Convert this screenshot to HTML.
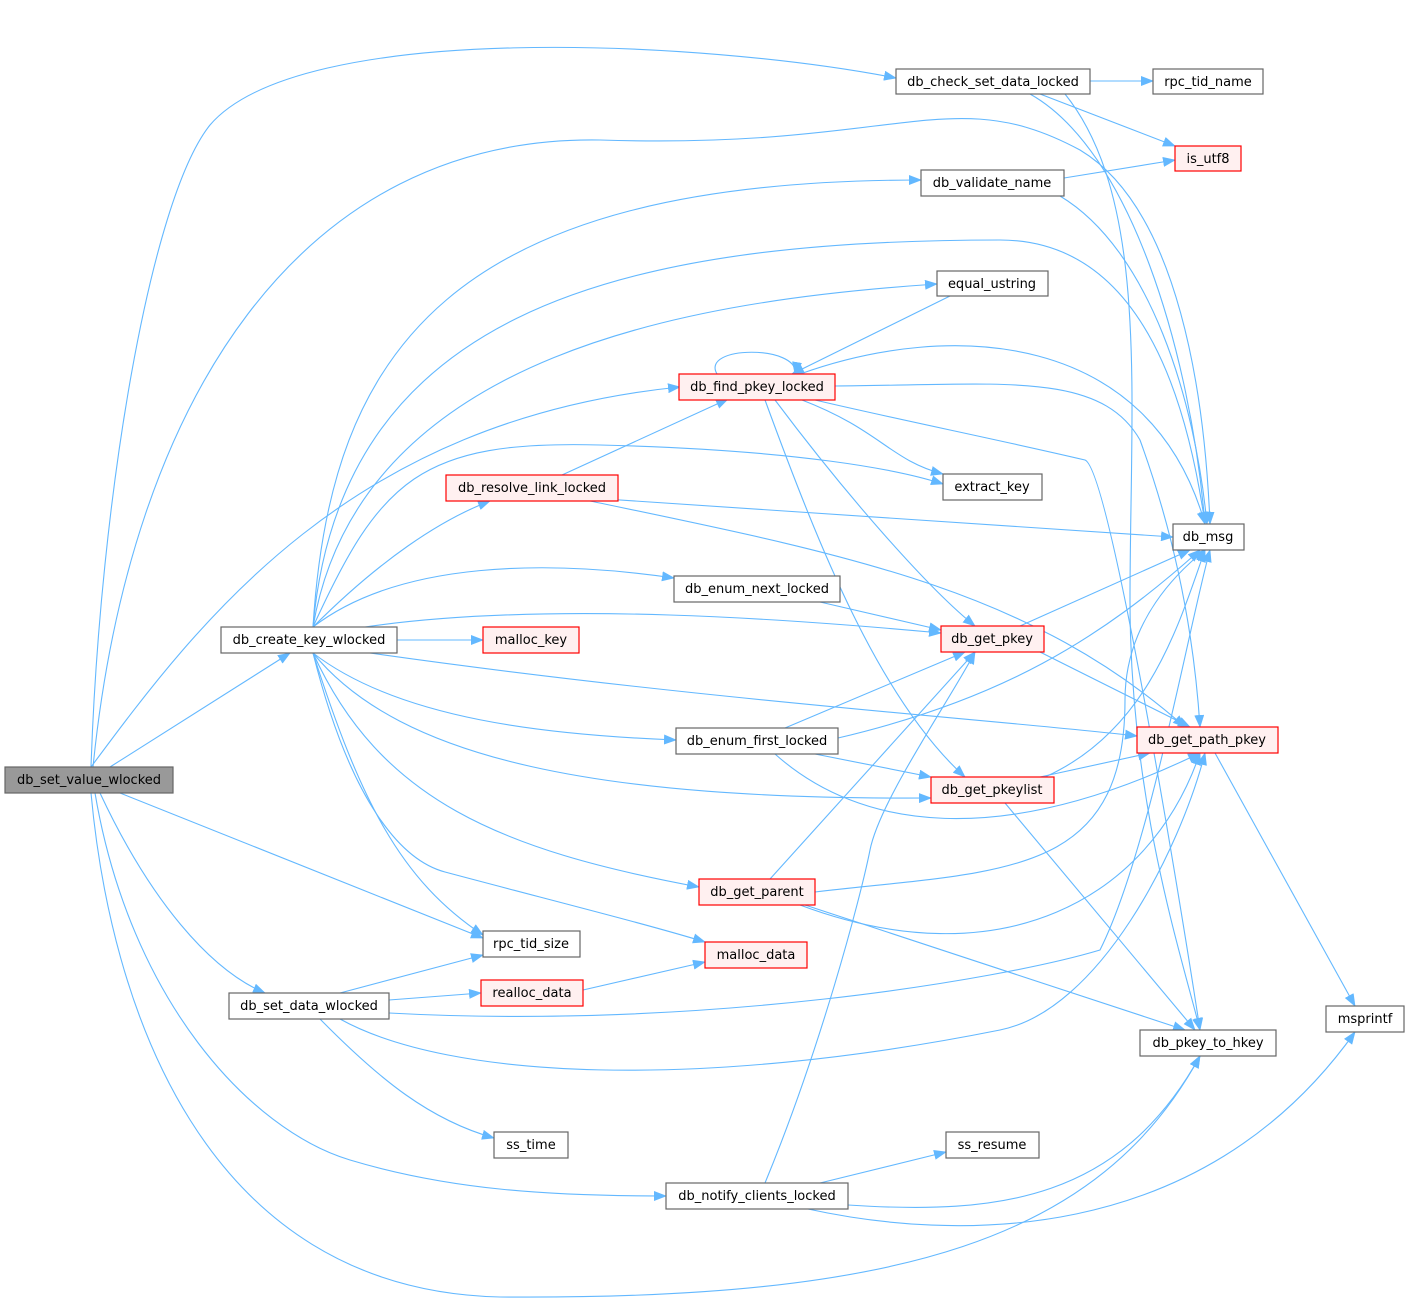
<!DOCTYPE html>
<html><head><meta charset="utf-8"><style>
html,body{margin:0;padding:0;background:#fff;}
svg{display:block;}
text{font-family:"DejaVu Sans","Liberation Sans",sans-serif;font-size:13px;fill:#000;}
.e{fill:none;stroke:#63b8ff;stroke-width:1.1;marker-end:url(#a);}
.n{fill:#fff;stroke:#666;stroke-width:1.2;}
.r{fill:#fff0f0;stroke:#f00;stroke-width:1.2;}
</style></head><body>
<svg width="1409" height="1304" viewBox="0 0 1409 1304" xmlns="http://www.w3.org/2000/svg">
<defs><marker id="a" markerWidth="13" markerHeight="10" refX="12" refY="5" orient="auto" markerUnits="userSpaceOnUse"><path d="M0,0 L13,5 L0,10 z" fill="#63b8ff"/></marker></defs>
<g>
<path class="e" d="M91,767 C100,500 150,200 210,125 C300,20 700,40 896,78"/>
<path class="e" d="M93,767 C130,400 300,135 600,140 C900,150 950,80 1080,150 C1180,210 1205,400 1210,524"/>
<path class="e" d="M91,767 C200,620 350,420 680,387"/>
<path class="e" d="M110,767 L290,653"/>
<path class="e" d="M120,793 L483,938"/>
<path class="e" d="M100,793 C150,900 210,970 265,993"/>
<path class="e" d="M95,793 C130,1000 250,1130 350,1160 C450,1190 550,1196 666,1196"/>
<path class="e" d="M91,793 C110,1000 200,1290 500,1297 C900,1300 1100,1240 1200,1056"/>
<path class="e" d="M313,627 C330,350 450,180 921,180"/>
<path class="e" d="M313,627 C340,320 600,240 1000,240 C1150,240 1190,420 1205,524"/>
<path class="e" d="M313,627 C360,350 700,300 937,284"/>
<path class="e" d="M313,627 C380,480 420,440 600,445 C800,450 900,470 943,484"/>
<path class="e" d="M313,627 C380,560 440,520 490,501"/>
<path class="e" d="M313,627 C400,560 550,560 674,578"/>
<path class="e" d="M365,627 C550,600 800,620 941,633"/>
<path class="e" d="M397,640 L483,640"/>
<path class="e" d="M370,653 C700,700 1000,720 1137,736"/>
<path class="e" d="M313,653 C400,720 550,735 676,740"/>
<path class="e" d="M313,653 C400,760 600,800 931,798"/>
<path class="e" d="M313,653 C380,800 500,850 699,887"/>
<path class="e" d="M313,653 C350,800 400,860 445,872 C550,900 650,925 705,942"/>
<path class="e" d="M313,653 C360,800 400,880 483,935"/>
<path class="e" d="M1090,81 L1153,81"/>
<path class="e" d="M1040,94 L1175,146"/>
<path class="e" d="M1030,94 C1130,150 1190,350 1205,524"/>
<path class="e" d="M1065,94 C1150,200 1130,400 1130,600 C1130,800 1180,950 1200,1030"/>
<path class="e" d="M1064,178 L1175,160"/>
<path class="e" d="M1060,196 C1150,250 1195,400 1207,524"/>
<path class="e" d="M717,374 C700,345 800,345 795,374"/>
<path class="e" d="M950,296 L792,374"/>
<path class="e" d="M800,374 C950,320 1150,330 1205,524"/>
<path class="e" d="M835,386 C1000,385 1100,370 1140,440 C1180,550 1195,650 1200,727"/>
<path class="e" d="M815,400 C900,420 1000,440 1085,460 C1110,470 1180,900 1200,1030"/>
<path class="e" d="M802,400 C880,430 890,460 943,474"/>
<path class="e" d="M775,400 C850,500 930,590 975,626"/>
<path class="e" d="M765,400 C820,550 880,700 965,777"/>
<path class="e" d="M562,475 L728,399"/>
<path class="e" d="M590,498 L1173,537"/>
<path class="e" d="M590,501 C850,555 1030,590 1185,727"/>
<path class="e" d="M820,602 L941,630"/>
<path class="e" d="M1020,626 L1190,550"/>
<path class="e" d="M1040,652 L1190,727"/>
<path class="e" d="M1215,753 L1355,1006"/>
<path class="e" d="M785,728 L965,652"/>
<path class="e" d="M838,738 C1000,700 1100,640 1200,550"/>
<path class="e" d="M815,754 L931,777"/>
<path class="e" d="M775,754 C860,830 1000,850 1200,753"/>
<path class="e" d="M1045,777 C1150,730 1180,620 1205,550"/>
<path class="e" d="M1040,777 L1150,753"/>
<path class="e" d="M1005,803 L1195,1030"/>
<path class="e" d="M770,879 L975,652"/>
<path class="e" d="M815,892 C1000,870 1125,880 1125,700 C1125,620 1180,570 1205,550"/>
<path class="e" d="M800,905 C1000,980 1150,900 1200,753"/>
<path class="e" d="M805,905 L1185,1030"/>
<path class="e" d="M583,990 L705,962"/>
<path class="e" d="M340,993 L483,955"/>
<path class="e" d="M389,1000 L481,993"/>
<path class="e" d="M389,1013 C700,1030 1000,980 1100,950 C1150,850 1190,620 1210,550"/>
<path class="e" d="M340,1019 C450,1080 700,1090 1000,1030 C1100,1010 1180,850 1205,753"/>
<path class="e" d="M320,1019 C380,1080 430,1120 494,1138"/>
<path class="e" d="M820,1183 L946,1152"/>
<path class="e" d="M848,1205 C1000,1215 1120,1200 1200,1056"/>
<path class="e" d="M808,1209 C950,1240 1200,1250 1355,1032"/>
<path class="e" d="M765,1183 C820,1050 860,900 870,850 C880,800 950,700 975,652"/>
</g>
<g>
<rect x="5" y="767" width="168" height="26" fill="#999" stroke="#666" stroke-width="1.2"/><text x="89" y="784" text-anchor="middle">db_set_value_wlocked</text>
<rect class="n" x="221" y="627" width="176" height="26"/><text x="309" y="644" text-anchor="middle">db_create_key_wlocked</text>
<rect class="n" x="896" y="69" width="194" height="25"/><text x="993" y="86" text-anchor="middle">db_check_set_data_locked</text>
<rect class="n" x="1153" y="69" width="110" height="25"/><text x="1208" y="86" text-anchor="middle">rpc_tid_name</text>
<rect class="r" x="1175" y="146" width="66" height="25"/><text x="1208" y="163" text-anchor="middle">is_utf8</text>
<rect class="n" x="921" y="170" width="143" height="26"/><text x="992" y="187" text-anchor="middle">db_validate_name</text>
<rect class="n" x="937" y="271" width="111" height="25"/><text x="992" y="288" text-anchor="middle">equal_ustring</text>
<rect class="r" x="679" y="374" width="156" height="26"/><text x="757" y="391" text-anchor="middle">db_find_pkey_locked</text>
<rect class="n" x="943" y="474" width="99" height="26"/><text x="992" y="491" text-anchor="middle">extract_key</text>
<rect class="r" x="446" y="475" width="172" height="26"/><text x="532" y="492" text-anchor="middle">db_resolve_link_locked</text>
<rect class="n" x="1173" y="524" width="71" height="26"/><text x="1208" y="541" text-anchor="middle">db_msg</text>
<rect class="n" x="674" y="576" width="166" height="26"/><text x="757" y="593" text-anchor="middle">db_enum_next_locked</text>
<rect class="r" x="483" y="627" width="96" height="26"/><text x="531" y="644" text-anchor="middle">malloc_key</text>
<rect class="r" x="941" y="626" width="103" height="26"/><text x="992" y="643" text-anchor="middle">db_get_pkey</text>
<rect class="r" x="1137" y="727" width="141" height="26"/><text x="1207" y="744" text-anchor="middle">db_get_path_pkey</text>
<rect class="n" x="676" y="728" width="162" height="26"/><text x="757" y="745" text-anchor="middle">db_enum_first_locked</text>
<rect class="r" x="931" y="777" width="123" height="26"/><text x="992" y="794" text-anchor="middle">db_get_pkeylist</text>
<rect class="r" x="699" y="879" width="116" height="26"/><text x="757" y="896" text-anchor="middle">db_get_parent</text>
<rect class="n" x="483" y="931" width="97" height="26"/><text x="531" y="948" text-anchor="middle">rpc_tid_size</text>
<rect class="r" x="705" y="942" width="102" height="26"/><text x="756" y="959" text-anchor="middle">malloc_data</text>
<rect class="r" x="481" y="980" width="102" height="26"/><text x="532" y="997" text-anchor="middle">realloc_data</text>
<rect class="n" x="229" y="993" width="160" height="26"/><text x="309" y="1010" text-anchor="middle">db_set_data_wlocked</text>
<rect class="n" x="1326" y="1006" width="78" height="26"/><text x="1365" y="1023" text-anchor="middle">msprintf</text>
<rect class="n" x="1140" y="1030" width="136" height="26"/><text x="1208" y="1047" text-anchor="middle">db_pkey_to_hkey</text>
<rect class="n" x="946" y="1132" width="93" height="26"/><text x="992" y="1149" text-anchor="middle">ss_resume</text>
<rect class="n" x="494" y="1132" width="74" height="26"/><text x="531" y="1149" text-anchor="middle">ss_time</text>
<rect class="n" x="666" y="1183" width="182" height="26"/><text x="757" y="1200" text-anchor="middle">db_notify_clients_locked</text>
</g>
</svg>
</body></html>
